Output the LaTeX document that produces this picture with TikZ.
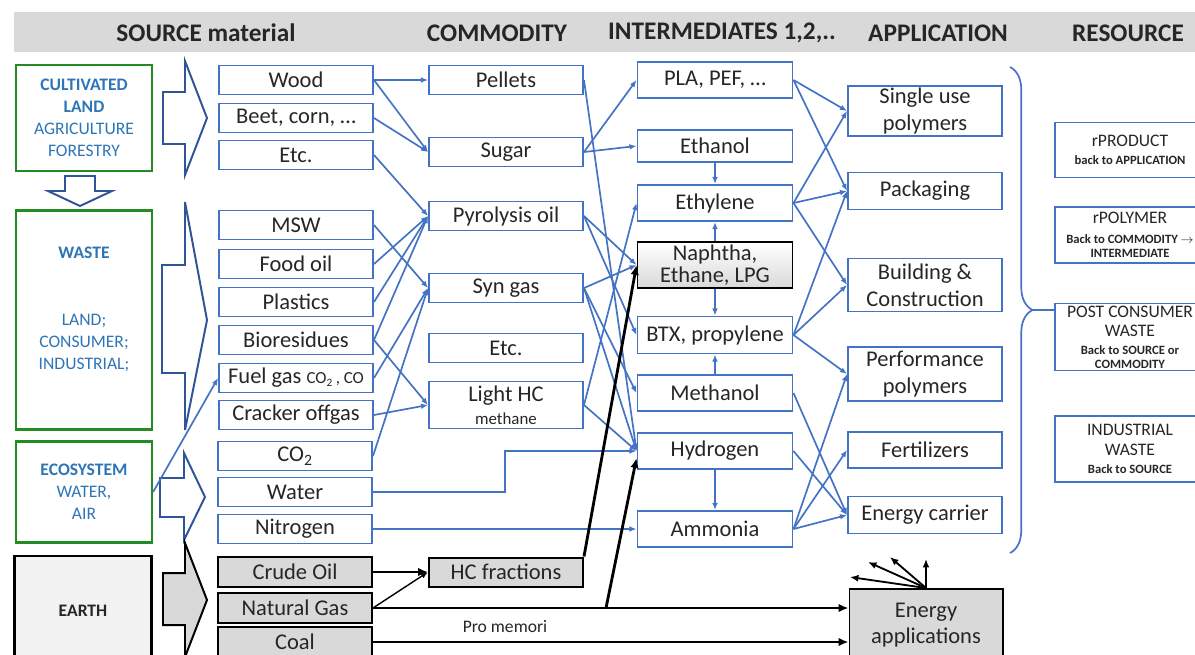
\documentclass[tikz,border=0pt]{standalone}
\usepackage{fontspec}
\setmainfont{Carlito}
\usetikzlibrary{arrows.meta,calc,decorations.pathreplacing}
\definecolor{boxblue}{RGB}{68,114,196}
\definecolor{arrowblue}{RGB}{47,85,151}
\definecolor{txtblue}{RGB}{46,117,182}
\definecolor{boxgreen}{RGB}{34,139,34}
\definecolor{headgray}{RGB}{217,217,217}
\definecolor{earthgray}{RGB}{242,242,242}
\newcommand{\subnote}[1]{{\fontsize{9}{10.5}\selectfont\bfseries #1}}
\tikzset{
  box/.style={
    draw=boxblue,
    line width=1.4pt,
    inner sep=0pt,
    align=center,
    text=black!85,
    minimum width=154*0.025cm,
    font=\fontsize{16}{19}\selectfont
  },
  ht/.style={minimum height=#1*0.025cm},
  fossil/.style={box, draw=black, fill=headgray},
  source/.style={
    draw=boxgreen,
    line width=1.6pt,
    inner sep=0pt,
    align=center,
    text=txtblue,
    minimum width=136*0.025cm,
    font=\fontsize{12.5}{15.6}\selectfont
  },
  resbox/.style={box, minimum width=150*0.025cm, font=\fontsize{12.5}{14}\selectfont},
  head/.style={font=\fontsize{18}{20}\selectfont\bfseries, text=black!85},
  bigarrow/.style={draw=arrowblue, line width=1.4pt, line join=miter},
  flow/.style={draw=boxblue, line width=1.2pt, -{Latex[length=5pt,width=4pt]}},
  fuel/.style={black, line width=2pt, -{Latex[length=7pt,width=6pt]}}
}

\begin{document}
\begin{tikzpicture}[x=0.025cm, y=-0.025cm]
  \useasboundingbox (0,0) rectangle (1195,654);
  % column headers
  \fill[headgray] (14,12) rectangle (1195,52);
  \node[head] (hsrc) at (206,33) {SOURCE material};
  \node[head] (hcom) at (497,33) {COMMODITY};
  \node[head] (hint) at (722,33) {INTERMEDIATES 1,2,..};
  \node[head] (happ) at (938,33) {APPLICATION};
  \node[head] (hres) at (1128,33) {RESOURCE};

  % block arrows
  \draw[bigarrow] (163,92) -- (185,92) -- (185,61) -- (207,118) -- (185,175) -- (185,144) -- (163,144) -- cycle;
  \draw[bigarrow] (162,265) -- (185,265) -- (185,202) -- (207,320) -- (185,430) -- (185,373) -- (162,373) -- cycle;
  \draw[bigarrow] (160,478) -- (184,478) -- (184,453) -- (205,497) -- (184,540) -- (184,517) -- (160,517) -- cycle;
  \draw[bigarrow, draw=black, fill=headgray] (163,573) -- (185,573) -- (185,543) -- (207,600) -- (185,657) -- (185,625) -- (163,625) -- cycle;
  \draw[bigarrow] (65,176) -- (95,176) -- (95,191) -- (112,191) -- (80,206) -- (48,191) -- (65,191) -- cycle;

  % sources
  \node[source, ht=106] (cult) at (84,118) {\textbf{CULTIVATED}\\\textbf{LAND}\\AGRICULTURE\\FORESTRY};
  \node[source, ht=219] (waste) at (84,320) {};
  \node[text=txtblue, align=center, font=\fontsize{12.5}{15.6}\selectfont] (wastetxt) at (84,309)
    {\textbf{WASTE}\\[32pt]LAND;\\CONSUMER;\\INDUSTRIAL;};
  \node[source, ht=101] (eco) at (84,492) {\textbf{ECOSYSTEM}\\WATER,\\AIR};
  \node[source, draw=black, line width=1.8pt, fill=earthgray, text=black!85, ht=110, minimum width=137*0.025cm] (earth) at (83,611) {\textbf{EARTH}};

  % source material
  \node[box, ht=29] (wood) at (296,80) {Wood};
  \node[box, ht=29] (beet) at (296,118) {Beet, corn, …};
  \node[box, ht=29] (etca) at (296,155) {Etc.};
  \node[box, ht=29] (msw) at (296,225) {MSW};
  \node[box, ht=29] (foodoil) at (296,264) {Food oil};
  \node[box, ht=29] (plastics) at (296,302) {Plastics};
  \node[box, ht=29] (biores) at (296,340) {Bioresidues};
  \node[box, ht=29] (fuelgas) at (296,378) {Fuel gas {\fontsize{12}{14}\selectfont CO\textsubscript{2}\,, CO}};
  \node[box, ht=29] (cracker) at (296,415) {Cracker offgas};
  \node[box, ht=29] (co2) at (295,456) {CO\textsubscript{2}};
  \node[box, ht=29] (water) at (295,492) {Water};
  \node[box, ht=29] (nitrogen) at (295,529) {Nitrogen};
  \node[fossil, ht=30] (crude) at (295,572) {Crude Oil};
  \node[fossil, ht=30] (natgas) at (295,608) {Natural Gas};
  \node[fossil, ht=30] (coal) at (295,642) {Coal};

  % commodities
  \node[box, ht=29] (pellets) at (506,80) {Pellets};
  \node[box, ht=29] (sugar) at (506,152) {Sugar};
  \node[box, ht=29] (pyro) at (506,216) {Pyrolysis oil};
  \node[box, ht=29] (syngas) at (506,288) {Syn gas};
  \node[box, ht=29] (etcb) at (506,348) {Etc.};
  \node[box, ht=47] (lighthc) at (506,405) {Light HC\\[-2.5pt]{\fontsize{12}{14}\selectfont methane}};
  \node[fossil, ht=29] (hcfrac) at (506,572) {HC fractions};

  % intermediates
  \node[box, ht=36, minimum width=155*0.025cm] (pla) at (715,80) {PLA, PEF, …};
  \node[box, ht=32, minimum width=155*0.025cm] (ethanol) at (715,146) {Ethanol};
  \node[box, ht=36, minimum width=155*0.025cm] (ethylene) at (715,203) {Ethylene};
  \node[box, draw=black, top color=white, bottom color=black!15, ht=46, minimum width=155*0.025cm,
    font=\fontsize{16}{15.5}\selectfont] (naphtha) at (715,265) {Naphtha,\\Ethane, LPG};
  \node[box, ht=37, minimum width=155*0.025cm] (btx) at (715,335) {BTX, propylene};
  \node[box, ht=36, minimum width=155*0.025cm] (methanol) at (715,393) {Methanol};
  \node[box, ht=36, minimum width=155*0.025cm] (hydrogen) at (715,451) {Hydrogen};
  \node[box, ht=36, minimum width=155*0.025cm] (ammonia) at (715,529) {Ammonia};

  % applications
  \node[box, ht=50] (single) at (925,111) {Single use\\polymers};
  \node[box, ht=37] (packaging) at (925,191) {Packaging};
  \node[box, ht=53] (building) at (925,285) {Building \&\\Construction};
  \node[box, ht=54] (performance) at (925,374) {Performance\\polymers};
  \node[box, ht=36] (fert) at (925,450) {Fertilizers};
  \node[box, ht=37] (energyc) at (925,515) {Energy carrier};
  \node[fossil, ht=72, minimum width=153*0.025cm] (eapp) at (926,625) {Energy\\applications};

  % resources
  \node[resbox, ht=55] (rprod) at (1130,150) {rPRODUCT\\[-1pt]\subnote{back to APPLICATION}};
  \node[resbox, ht=56] (rpoly) at (1130,235) {rPOLYMER\\\subnote{Back to COMMODITY $\rightarrow$}\\[-3.5pt]\subnote{INTERMEDIATE}};
  \node[resbox, ht=67] (post) at (1130,337) {POST CONSUMER\\WASTE\\[-1pt]\subnote{Back to SOURCE or}\\[-4.5pt]\subnote{COMMODITY}};
  \node[resbox, ht=66] (industrial) at (1130,449) {INDUSTRIAL\\WASTE\\[-1pt]\subnote{Back to SOURCE}};

  \draw[boxblue, line width=1.2pt, decorate, decoration={brace, amplitude=16pt}] (1010,67) -- (1010,553);
  \coordinate (bracetip) at (1032,310);
  \draw[boxblue, line width=1.2pt] (bracetip) -- (bracetip -| post.west);

  % source -> commodity
  \draw[flow] (eco.east) -- (fuelgas.west);
  \draw[flow] (wood.east) -- (pellets.west);
  \draw[flow] (wood.east) -- (sugar.west);
  \draw[flow] (beet.east) -- (sugar.west);
  \draw[flow] (etca.east) -- (pyro.west);
  \draw[flow] (msw.east) -- (syngas.west);
  \draw[flow] (foodoil.east) -- (pyro.west);
  \draw[flow] (plastics.east) -- (pyro.west);
  \draw[flow] (biores.east) -- (pyro.west);
  \draw[flow] (biores.east) -- (lighthc.west);
  \draw[flow] (fuelgas.east) -- (syngas.west);
  \draw[flow] (cracker.east) -- (lighthc.west);
  \draw[flow] (co2.east) -- (syngas.west);

  % commodity -> intermediates
  \draw[flow] (pellets.east) -- (hydrogen.west);
  \draw[flow] (sugar.east) -- (pla.west);
  \draw[flow] (sugar.east) -- (ethanol.west);
  \draw[flow] (pyro.east) -- (naphtha.west);
  \draw[flow] (pyro.east) -- (btx.west);
  \draw[flow] (syngas.east) -- (naphtha.west);
  \draw[flow] (syngas.east) -- (methanol.west);
  \draw[flow] (syngas.east) -- (hydrogen.west);
  \draw[flow] (lighthc.east) -- (ethylene.west);
  \draw[flow] (lighthc.east) -- (hydrogen.west);
  \coordinate (wbend) at (505,492);
  \draw[flow] (water.east) -- (wbend) |- (hydrogen.west);
  \draw[flow] (nitrogen.east) -- (nitrogen.east -| ammonia.west);

  % between intermediates
  \draw[flow] (ethanol) -- (ethylene);
  \draw[flow] (naphtha) -- (ethylene);
  \draw[flow] (naphtha) -- (btx);
  \draw[flow] (methanol) -- (btx);
  \draw[flow] (hydrogen) -- (ammonia);

  % intermediates -> application
  \draw[flow] (pla.east) -- (single.west);
  \draw[flow] (pla.east) -- (packaging.west);
  \draw[flow] (ethylene.east) -- (single.west);
  \draw[flow] (ethylene.east) -- (packaging.west);
  \draw[flow] (ethylene.east) -- (building.west);
  \draw[flow] (btx.east) -- (packaging.west);
  \draw[flow] (btx.east) -- (building.west);
  \draw[flow] (btx.east) -- (performance.west);
  \draw[flow] (methanol.east) -- (energyc.west);
  \draw[flow] (hydrogen.east) -- (energyc.west);
  \draw[flow] (ammonia.east) -- (performance.west);
  \draw[flow] (ammonia.east) -- (fert.west);
  \draw[flow] (ammonia.east) -- (energyc.west);

  % fossil routes
  \draw[fuel] (crude.east) -- (hcfrac.west);
  \draw[fuel, line width=1pt, -{Latex[length=5pt,width=4pt]}] (natgas.east) -- (hcfrac.west);
  \draw[fuel] (natgas.east) -- (natgas.east -| eapp.west);
  \draw[fuel] (coal.east) -- (coal.east -| eapp.west);
  \path (natgas.east) -- (natgas.east -| eapp.west) coordinate[pos=0.49] (ngsplit);
  \draw[fuel] (ngsplit) -- ([yshift=-5pt]hydrogen.west);
  \draw[fuel] (hcfrac.north east) -- (naphtha.west);
  \node[font=\fontsize{12.5}{14}\selectfont, text=black!85] (promem) at (505,626) {Pro memori};
  \foreach \dx/\dy in {0/-29, -36/-31, -58/-26, -76/-11}
    \draw[fuel, line width=1.3pt, -{Latex[length=6pt,width=5pt]}] (eapp.north) -- ++(\dx,\dy);
\end{tikzpicture}
\end{document}
